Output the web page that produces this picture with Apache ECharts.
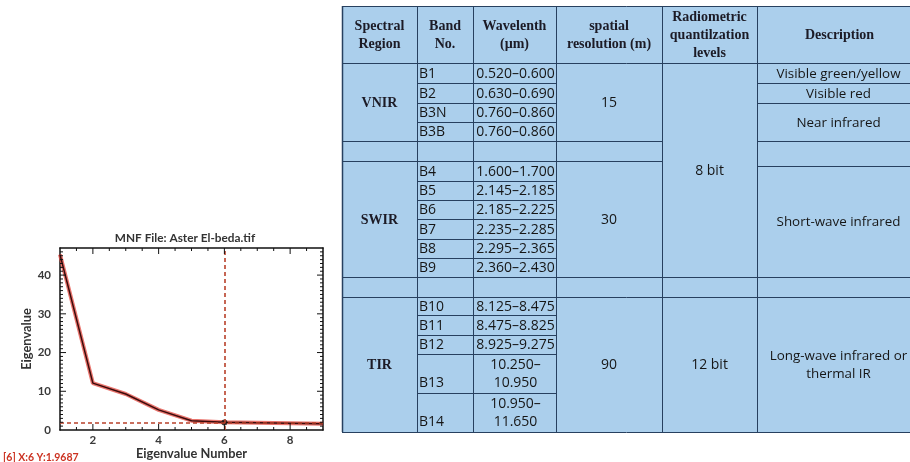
<!DOCTYPE html>
<html><head><meta charset="utf-8">
<script src="https://cdn.jsdelivr.net/npm/echarts@6/dist/echarts.min.js"></script>
<style>html,body{margin:0;padding:0;background:#fff}#c{width:910px;height:462px}</style>
</head><body><div id="c"></div><script>
// ---------- Chart data ----------
const eigenNumbers = [1, 2, 3, 4, 5, 6, 7, 8, 9];
const eigenValues = [45.3, 12.1, 9.3, 5.2, 2.4, 1.97, 1.9, 1.75, 1.6];
const selectedPoint = [6, 1.9687];
const chartTitle = 'MNF File: Aster El-beda.tif';
const xAxisName = 'Eigenvalue Number';
const yAxisName = 'Eigenvalue';
const statusText = '[6] X:6 Y:1.9687';
const xRange = [1, 9];
const yRange = [0, 47];
const xMajorTicks = [2, 4, 6, 8];
const xMinorTicks = [1.5, 2.5, 3, 3.5, 4.5, 5, 5.5, 6.5, 7, 7.5, 8.5];
const yMajorTicks = [10, 20, 30, 40];
const yMinorTicks = [1, 2, 3, 4, 5, 6, 7, 8, 9, 11, 12, 13, 14, 15, 16, 17, 18, 19, 21, 22, 23, 24, 25, 26, 27, 28, 29,
  31, 32, 33, 34, 35, 36, 37, 38, 39, 41, 42, 43, 44, 45, 46];

// ---------- Table data ----------
const headers = [['Spectral', 'Region'], ['Band', 'No.'], ['Wavelenth', '(µm)'], ['spatial', 'resolution (m)'], ['Radiometric', 'quantilzation', 'levels'], ['Description']];
const regions = ['VNIR', 'SWIR', 'TIR'];
const resolutions = ['15', '30', '90'];
const vnirBands = ['B1', 'B2', 'B3N', 'B3B'];
const vnirWavelengths = ['0.520–0.600', '0.630–0.690', '0.760–0.860', '0.760–0.860'];
const swirBands = ['B4', 'B5', 'B6', 'B7', 'B8', 'B9'];
const swirWavelengths = ['1.600–1.700', '2.145–2.185', '2.185–2.225', '2.235–2.285', '2.295–2.365', '2.360–2.430'];
const tirBands = ['B10', 'B11', 'B12', 'B13', 'B14'];
const tirWavelengths = ['8.125–8.475', '8.475–8.825', '8.925–9.275', '10.250–\n10.950', '10.950–\n11.650'];
const quantLevels = ['8 bit', '12 bit'];
const vnirDescriptions = ['Visible green/yellow', 'Visible red', 'Near infrared'];
const swirDescriptions = ['Short-wave infrared'];
const tirDescriptions = ['Long-wave infrared or\nthermal IR'];

// ---------- Table layout (pixels) ----------
const colEdges = [342, 417, 473, 556, 662, 757, 922];
const tableTop = 6, headerBottom = 63, tableBottom = 432;
const groupRowEdges = [
  [63, 83, 103, 122, 141],
  [161, 181, 200, 219, 239, 258, 277],
  [297, 315, 335, 354, 393, 432]
];
const descRowEdges = [[63, 83, 103, 141], [166, 277], [297, 432]];
const quantSpans = [[63, 277], [297, 432]];
const LINE = '#27405f';
const HEAD_FONT = 'bold 14px "Liberation Serif", "DejaVu Serif", serif';
const BODY_FONT = '14px "Open Sans", "Noto Sans", sans-serif';
const DESC_FONT = '13.4px "Open Sans", "Noto Sans", sans-serif';

const G = [];
G.push({ type: 'rect', silent: true, z: 1, shape: { x: colEdges[0], y: tableTop, width: colEdges[6] - colEdges[0], height: tableBottom - tableTop }, style: { fill: '#abcfec' } });
function hline(x1, x2, y) { G.push({ type: 'line', silent: true, z: 3, shape: { x1: x1, y1: y + 0.5, x2: x2, y2: y + 0.5 }, style: { stroke: LINE, lineWidth: 1 } }); }
function vline(x, y1, y2, w) { G.push({ type: 'line', silent: true, z: 3, shape: { x1: x + 0.5, y1: y1, x2: x + 0.5, y2: y2 }, style: { stroke: LINE, lineWidth: w || 1 } }); }
function txt(x, y, t, font, align, color) {
  G.push({ type: 'text', silent: true, z: 4, x: x, y: y, style: { text: t, font: font, fill: color || '#161616', align: align || 'center', verticalAlign: 'middle', lineHeight: 18 } });
}
colEdges.forEach(function (x, i) { vline(x, tableTop, tableBottom, i === 0 ? 1.5 : 1); });
hline(colEdges[0], colEdges[6], tableTop);
hline(colEdges[0], colEdges[6], headerBottom);
hline(colEdges[0], colEdges[6], tableBottom);
headers.forEach(function (h, i) {
  const cx = (colEdges[i] + colEdges[i + 1]) / 2;
  txt(cx, 35, h.join('\n'), HEAD_FONT, 'center', '#1c1b26');
});
const bandGroups = [vnirBands, swirBands, tirBands];
const wlGroups = [vnirWavelengths, swirWavelengths, tirWavelengths];
const descGroups = [vnirDescriptions, swirDescriptions, tirDescriptions];
groupRowEdges.forEach(function (edges, g) {
  const top = edges[0], bot = edges[edges.length - 1];
  if (g === 1) hline(colEdges[0], colEdges[4], top);
  if (g === 2) hline(colEdges[0], colEdges[6], top);
  if (g < 2) hline(colEdges[0], colEdges[4], bot);
  for (let r = 1; r < edges.length - 1; r++) hline(colEdges[1], colEdges[3], edges[r]);
  const mid = (top + bot) / 2;
  txt((colEdges[0] + colEdges[1]) / 2, mid + 1, regions[g], HEAD_FONT, 'center', '#1c1b26');
  txt((colEdges[3] + colEdges[4]) / 2, mid + 1, resolutions[g], BODY_FONT);
  bandGroups[g].forEach(function (b, r) {
    const y0 = edges[r], y1 = edges[r + 1];
    const twoLine = wlGroups[g][r].indexOf('\n') >= 0;
    const cy = (y0 + y1) / 2;
    txt(colEdges[1] + 2, twoLine ? cy + 10 : cy + 1, b, BODY_FONT, 'left');
    txt((colEdges[2] + colEdges[3]) / 2 + 1, cy + 1, wlGroups[g][r], BODY_FONT, 'center');
  });
  const de = descRowEdges[g];
  for (let r = 1; r < de.length - 1; r++) hline(colEdges[5], colEdges[6], de[r]);
  if (g === 0) hline(colEdges[5], colEdges[6], de[de.length - 1]);
  if (g === 1) hline(colEdges[5], colEdges[6], de[0]);
  descGroups[g].forEach(function (d, r) {
    txt((colEdges[5] + colEdges[6]) / 2 - 1, (de[r] + de[r + 1]) / 2 + 1, d, DESC_FONT, 'center');
  });
});
hline(colEdges[4], colEdges[6], quantSpans[0][1]);
quantLevels.forEach(function (q, i) {
  txt((colEdges[4] + colEdges[5]) / 2, (quantSpans[i][0] + quantSpans[i][1]) / 2 + 1, q, BODY_FONT);
});

// chart texts
G.push({ type: 'text', silent: true, x: 185, y: 238, style: { text: chartTitle, font: 'bold 11.8px Lato, "Open Sans", sans-serif', fill: '#333', align: 'center', verticalAlign: 'middle' } });
G.push({ type: 'text', silent: true, x: 3, y: 458, style: { text: statusText, font: 'bold 10.5px Lato, "Open Sans", sans-serif', fill: '#cc3322', align: 'left', verticalAlign: 'middle' } });

const axisFont = { fontFamily: 'Lato, "Open Sans", sans-serif', fontWeight: 'bold', fontSize: 11.5, color: '#3a3a3a' };
const nameFont = { fontFamily: 'Lato, "Open Sans", sans-serif', fontWeight: 'bold', fontSize: 12.8, color: '#333' };
function frameLine() { return { show: true, onZero: false, lineStyle: { color: '#111', width: 1.5 } }; }
function xAx(pos, labels) {
  return {
    type: 'value', min: xRange[0], max: xRange[1], position: pos,
    axisLine: frameLine(), axisTick: { show: false }, splitLine: { show: false },
    axisLabel: labels ? Object.assign({ margin: 4, formatter: function (v) { return xMajorTicks.indexOf(v) >= 0 ? String(v) : ''; } }, axisFont) : { show: false },
    name: labels ? xAxisName : '', nameLocation: 'middle', nameGap: 17, nameTextStyle: nameFont
  };
}
function yAx(pos, labels) {
  return {
    type: 'value', min: yRange[0], max: yRange[1], interval: 10, position: pos,
    axisLine: frameLine(), axisTick: { show: false }, splitLine: { show: false },
    axisLabel: labels ? Object.assign({ margin: 9, formatter: function (v) { return v % 10 === 0 ? String(v) : ''; } }, axisFont) : { show: false },
    name: labels ? yAxisName : '', nameLocation: 'middle', nameGap: 27, nameRotate: 90, nameTextStyle: nameFont
  };
}
const pts = eigenNumbers.map(function (x, i) { return [x, eigenValues[i]]; });

// tick marks on all four sides of the frame: [x, y, side, isMajor]
const tickData = [];
xMajorTicks.forEach(function (v) { tickData.push([v, yRange[0], 0, 1], [v, yRange[1], 1, 1]); });
xMinorTicks.forEach(function (v) { tickData.push([v, yRange[0], 0, 0], [v, yRange[1], 1, 0]); });
yMajorTicks.forEach(function (v) { tickData.push([xRange[0], v, 2, 1], [xRange[1], v, 3, 1]); });
yMinorTicks.forEach(function (v) { tickData.push([xRange[0], v, 2, 0], [xRange[1], v, 3, 0]); });
function renderTick(params, api) {
  const side = api.value(2), major = api.value(3);
  const p = api.coord([api.value(0), api.value(1)]);
  const L = major ? 6 : 3;
  let x2 = p[0], y2 = p[1];
  if (side === 0) y2 -= L; else if (side === 1) y2 += L; else if (side === 2) x2 += L; else x2 -= L;
  return { type: 'line', shape: { x1: p[0], y1: p[1], x2: x2, y2: y2 }, style: { stroke: '#111', lineWidth: 1 } };
}

const chart = echarts.init(document.getElementById('c'), null, { renderer: 'canvas' });
chart.setOption({
  animation: false,
  backgroundColor: '#ffffff',
  grid: { left: 60, right: 587, top: 248, bottom: 32 },
  xAxis: [xAx('bottom', true), xAx('top', false)],
  yAxis: [yAx('left', true), yAx('right', false)],
  series: [
    { type: 'line', data: pts, symbol: 'none', lineStyle: { color: '#e2463c', width: 4, opacity: 0.75 }, z: 2,
      markLine: { silent: true, symbol: ['none', 'none'], label: { show: false },
        lineStyle: { type: [4, 3], color: '#b8402a', width: 1.6 },
        data: [{ xAxis: selectedPoint[0] }, { yAxis: selectedPoint[1] }] } },
    { type: 'line', data: pts, symbol: 'none', lineStyle: { color: '#3b0c0c', width: 1.5 }, z: 3 },
    { type: 'scatter', data: [selectedPoint], symbolSize: 6, itemStyle: { color: '#111' }, z: 4 },
    { type: 'custom', data: tickData, renderItem: renderTick, silent: true, z: 5, clip: false }
  ],
  graphic: G
});
</script></body></html>
